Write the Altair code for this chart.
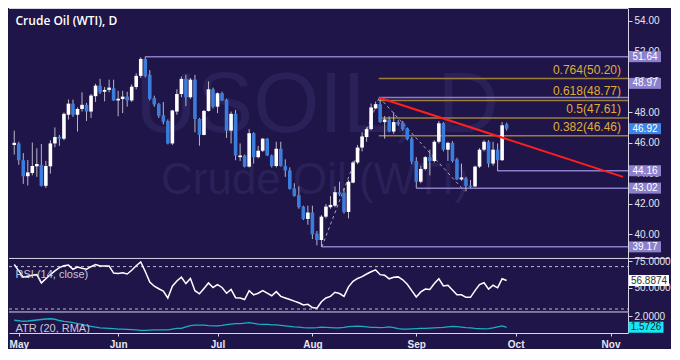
import altair as alt
import pandas as pd

# ---------------- data ----------------
first_k = -1  # candle sequence index of the first (partly hidden) candle

open_ = [45.85, 45.95, 44.85, 43.80, 44.01, 44.45, 44.55, 43.17, 44.45, 45.95,
         46.39, 46.26, 47.83, 48.56, 47.83, 48.21, 48.48, 48.04, 49.05, 49.74,
         49.34, 49.46, 49.57, 48.77, 48.86, 49.02, 48.77, 49.65, 50.38, 51.49,
         50.45, 48.92, 48.52, 47.79, 47.42, 45.95, 48.04, 49.19, 50.19, 48.98,
         50.13, 47.56, 46.51, 48.08, 49.50, 48.36, 49.24, 48.82, 46.79, 47.89,
         45.05, 45.16, 44.43, 46.62, 45.05, 45.47, 46.26, 45.16, 44.47, 45.60,
         44.47, 44.18, 43.00, 42.55, 41.81, 41.00, 41.42, 40.04, 39.62, 41.15,
         41.77, 41.87, 42.75, 42.71, 41.46, 43.38, 44.70, 45.68, 46.37, 46.89,
         48.25, 48.52, 47.35, 47.52, 46.73, 47.35, 47.31, 46.94, 46.26, 44.80,
         43.44, 44.28, 45.05, 44.80, 46.06, 47.27, 45.54, 45.99, 44.91, 43.59,
         43.66, 43.19, 43.13, 44.43, 45.54, 46.06, 44.63, 45.54, 44.85, 47.20]
high = [46.79, 46.06, 45.32, 44.87, 46.01, 45.64, 45.91, 44.80, 46.16, 47.00,
        46.51, 47.98, 48.83, 48.82, 48.31, 49.30, 48.61, 49.19, 49.86, 50.19,
        49.65, 50.13, 50.13, 49.40, 49.40, 49.34, 49.82, 50.55, 51.59, 51.64,
        50.76, 49.08, 48.61, 48.67, 47.52, 48.15, 49.50, 50.34, 50.45, 50.24,
        50.45, 47.62, 48.15, 50.02, 49.61, 49.30, 49.34, 48.88, 48.04, 48.15,
        45.95, 45.22, 46.89, 46.68, 45.79, 46.31, 46.31, 45.22, 46.06, 46.06,
        44.91, 44.38, 43.34, 43.13, 41.87, 41.87, 41.87, 40.21, 41.25, 41.98,
        42.50, 43.13, 43.44, 43.03, 43.55, 44.80, 45.85, 46.68, 47.00, 48.56,
        48.69, 48.97, 47.75, 47.73, 47.98, 47.48, 47.42, 47.00, 46.37, 45.05,
        44.49, 45.12, 45.54, 46.16, 47.42, 47.35, 46.06, 46.10, 45.01, 44.63,
        43.76, 43.55, 44.49, 45.64, 46.16, 46.16, 46.06, 45.95, 47.35, 47.31]
low = [45.22, 44.55, 43.30, 43.19, 43.86, 43.76, 43.13, 43.03, 43.97, 45.70,
       45.79, 46.16, 47.52, 47.69, 46.73, 48.04, 47.42, 47.62, 48.67, 49.19,
       48.71, 49.30, 48.73, 47.73, 47.94, 48.36, 48.67, 49.50, 50.24, 50.28,
       48.77, 48.36, 47.62, 47.20, 45.89, 45.85, 47.83, 48.98, 48.39, 48.88,
       46.68, 45.80, 46.48, 48.04, 48.25, 47.94, 48.73, 46.31, 45.95, 44.85,
       44.80, 44.38, 44.38, 44.63, 44.97, 45.39, 45.12, 44.38, 44.38, 44.43,
       43.76, 42.92, 42.46, 41.67, 40.93, 40.62, 39.68, 39.27, 39.17, 41.04,
       41.67, 41.77, 42.50, 41.35, 41.04, 43.34, 44.59, 45.43, 46.06, 46.81,
       48.19, 47.31, 46.26, 46.68, 46.58, 47.10, 46.79, 46.16, 44.59, 43.02,
       43.34, 44.18, 43.86, 44.70, 45.95, 45.43, 44.80, 44.70, 43.55, 43.50,
       42.82, 43.02, 43.09, 44.34, 45.43, 44.38, 44.49, 44.16, 44.80, 46.79]
close = [45.99, 44.85, 43.80, 44.05, 44.47, 44.60, 43.17, 44.47, 45.95, 46.37,
         46.26, 47.89, 48.56, 47.83, 48.21, 48.48, 48.04, 49.09, 49.74, 49.30,
         49.46, 49.61, 48.77, 48.88, 49.02, 48.77, 49.67, 50.38, 51.49, 50.38,
         48.88, 48.50, 47.77, 47.37, 45.95, 48.11, 49.19, 50.18, 48.98, 50.13,
         47.56, 46.51, 48.08, 49.50, 48.36, 49.24, 48.77, 46.79, 47.89, 45.16,
         45.16, 44.43, 46.62, 45.05, 45.47, 46.26, 45.16, 44.47, 45.60, 44.47,
         44.18, 42.97, 42.50, 41.77, 41.00, 41.42, 39.99, 39.62, 41.15, 41.81,
         41.92, 42.75, 42.61, 41.46, 43.44, 44.70, 45.68, 46.41, 46.89, 48.31,
         48.52, 47.35, 47.52, 46.73, 47.35, 47.20, 46.89, 46.23, 44.76, 43.44,
         44.28, 45.05, 44.80, 46.06, 47.27, 45.54, 45.99, 44.80, 43.59, 43.72,
         43.17, 43.09, 44.43, 45.54, 46.06, 44.63, 45.54, 44.85, 47.14, 46.92]
rsi = [72.0, 66.0, 60.0, 60.9, 61.8, 62.4, 54.6, 58.5, 62.4, 66.0,
       69.0, 70.8, 71.4, 67.5, 69.6, 68.4, 67.5, 69.9, 72.0, 70.5,
       70.5, 70.5, 63.9, 63.6, 64.2, 63.0, 66.6, 70.8, 74.4, 65.4,
       55.4, 51.5, 49.1, 47.0, 40.4, 51.5, 56.4, 60.0, 54.0, 58.8,
       47.3, 44.3, 49.4, 54.6, 50.3, 53.0, 50.3, 44.9, 48.5, 40.7,
       40.4, 38.9, 47.3, 43.4, 44.9, 47.3, 44.9, 42.5, 46.4, 41.9,
       40.4, 38.9, 37.4, 35.9, 33.8, 34.4, 31.4, 30.8, 36.8, 40.4,
       41.9, 45.8, 44.6, 41.9, 50.9, 56.1, 58.8, 60.6, 63.0, 65.1,
       66.9, 62.4, 61.8, 58.5, 60.0, 60.3, 57.6, 53.3, 47.3, 41.3,
       46.1, 48.8, 48.5, 54.0, 58.5, 51.8, 52.4, 47.9, 43.4, 43.4,
       41.0, 41.0, 47.3, 53.0, 54.8, 48.8, 52.4, 50.0, 58.5, 56.8874]
atr = [1.85, 1.83, 1.81, 1.82, 1.84, 1.86, 1.88, 1.90, 1.91, 1.89,
       1.84, 1.81, 1.79, 1.76, 1.72, 1.69, 1.64, 1.61, 1.58, 1.55,
       1.54, 1.53, 1.52, 1.50, 1.50, 1.49, 1.48, 1.47, 1.45, 1.45,
       1.46, 1.47, 1.47, 1.47, 1.47, 1.50, 1.53, 1.53, 1.59, 1.64,
       1.66, 1.66, 1.66, 1.64, 1.63, 1.63, 1.65, 1.68, 1.70, 1.72,
       1.72, 1.74, 1.76, 1.73, 1.70, 1.69, 1.69, 1.67, 1.67, 1.65,
       1.63, 1.61, 1.59, 1.58, 1.56, 1.55, 1.55, 1.56, 1.58, 1.57,
       1.56, 1.55, 1.55, 1.57, 1.60, 1.61, 1.62, 1.61, 1.59, 1.57,
       1.57, 1.56, 1.57, 1.59, 1.56, 1.52, 1.50, 1.50, 1.51, 1.52,
       1.53, 1.53, 1.54, 1.55, 1.56, 1.57, 1.59, 1.61, 1.60, 1.58,
       1.56, 1.55, 1.53, 1.52, 1.51, 1.52, 1.55, 1.59, 1.63, 1.5726]

month_pos = [0, 22, 44, 65, 88, 110, 131]
month_names = ["May", "Jun", "Jul", "Aug", "Sep", "Oct", "Nov"]

price_ticks = [40, 42, 44, 46, 48, 50, 52, 54]
rsi_ticks = [50, 75]
atr_ticks = [2.0]
rsi_bands = [70, 30]

level_price = [51.64, 48.97, 44.16, 43.02, 39.17]
level_from = [28, 79.7, 105.9, 88, 67.1]
level_label = ["51.64", "48.97", "44.16", "43.02", "39.17"]

fib_ratio = ["0.764", "0.618", "0.5", "0.382"]
fib_price = [50.20, 48.77, 47.61, 46.46]
fib_from = 79.7

trend_k = [79.8, 133.76]
trend_p = [48.95, 43.76]

swing_seg = ["a", "a", "b", "b"]
swing_k = [67.1, 79.8, 79.8, 98.7]
swing_p = [39.17, 48.97, 48.97, 42.82]

last_price = 46.92
last_rsi = 56.8874
last_atr = 1.5726

# ---------------- layout / style ----------------
W = 619
H = 325
S = H / 340.0
P_BOT = 262 * S
R_BOT = 318 * S

x_domain = [-1.055, 133.76]
price_domain = [38.41, 54.83]
rsi_domain = [27.2, 77.7]
atr_domain = [1.346, 2.178]

BG = "#1f1548"
WM = "#2a2159"
UP = "#ffffff"
DN = "#3b7ddd"
WICK = "#b9b6c8"
LVL = "#8a7fc8"
BOX = "#8d80cc"
FIBL = "#9c7f3c"
FIBT = "#e0ac36"
RED = "#ff1f1f"
AX = "#d8d6e6"
LAB = "#e6e6ee"
ATRC = "#1aaec4"
CYANBOX = "#19e6f5"
CURBOX = "#3d86e6"
FONT = "Liberation Sans"

ks = list(range(first_k, first_k + len(close)))

expr = "".join(f"datum.value == {p} ? '{n}' : " for p, n in zip(month_pos, month_names)) + "''"
xaxis = alt.Axis(values=month_pos, labelExpr=expr, title=None, grid=False,
                 domainColor=AX, tickColor=AX, labelColor=LAB, labelFont=FONT,
                 labelFontSize=10, labelFontWeight="bold", tickSize=3,
                 labelPadding=3, labelFlush=8, labelOverlap=False)


def yaxis(vals, fmt):
    return alt.Axis(orient="right", values=vals, format=fmt, title=None, grid=False,
                    domainColor=AX, tickColor=AX, labelColor=LAB, labelFont=FONT,
                    labelFontSize=10, tickSize=4, labelPadding=2,
                    labelOverlap=False, labelBound=False)


xs = alt.Scale(domain=x_domain, range=[0, W], nice=False, zero=False)
ps = alt.Scale(domain=price_domain, range=[P_BOT, 0], nice=False, zero=False)
rs = alt.Scale(domain=rsi_domain, range=[R_BOT, P_BOT], nice=False, zero=False)
ats = alt.Scale(domain=atr_domain, range=[H, R_BOT], nice=False, zero=False)
paxis = yaxis(price_ticks, ".2f")
raxis = yaxis(rsi_ticks, ".4f")
aaxis = yaxis(atr_ticks, ".4f")

X = alt.X("k:Q", scale=xs, axis=xaxis)


def PY(f):
    return alt.Y(f, scale=ps, axis=paxis)


def RY(f):
    return alt.Y(f, scale=rs, axis=raxis)


def AY(f):
    return alt.Y(f, scale=ats, axis=aaxis)


def box_path(ratio):
    return f"M-1,-{ratio}L1,-{ratio}L1,{ratio}L-1,{ratio}Z"


one = pd.DataFrame({"a": [0]})


def text_chart(txt, x, y, **kw):
    return alt.Chart(pd.DataFrame({"t": [txt]})).mark_text(**kw).encode(
        x=alt.value(x), y=alt.value(y), text="t:N")


def hline(y, x2):
    return alt.Chart(one).mark_rule(color=AX, strokeWidth=1).encode(
        x=alt.value(0), x2=alt.value(x2), y=alt.value(y))


# ---------------- price panel ----------------
cdf = pd.DataFrame({"k": ks, "o": open_, "h": high, "l": low, "c": close})
cdf["dir"] = ["up" if c >= o else "down" for o, c in zip(open_, close)]

wick = alt.Chart(cdf).mark_rule(color=WICK, strokeWidth=1, clip=True).encode(
    x=X, y=PY("l:Q"), y2="h:Q")
body = alt.Chart(cdf).mark_bar(size=3.6, clip=True).encode(
    x=X, y=PY("o:Q"), y2="c:Q",
    color=alt.Color("dir:N", scale=alt.Scale(domain=["up", "down"], range=[UP, DN]), legend=None))

ldf = pd.DataFrame({"p": level_price, "k0": level_from, "lab": level_label})
lvl_lines = alt.Chart(ldf).mark_rule(color=LVL, strokeWidth=1.5).encode(
    x=alt.X("k0:Q", scale=xs, axis=xaxis), x2=alt.value(W), y=PY("p:Q"))

BX = W + 17
lvl_box = alt.Chart(ldf).transform_filter(alt.datum.lab != "48.97").mark_point(
    shape=box_path(0.344), filled=True, size=1024, color=BOX, opacity=1, strokeWidth=0
).encode(x=alt.value(BX), y=PY("p:Q"))
lvl_txt = alt.Chart(ldf).transform_filter(alt.datum.lab != "48.97").mark_text(
    fontSize=10, color="white", font=FONT).encode(x=alt.value(BX), y=PY("p:Q"), text="lab:N")
lvl_box2 = alt.Chart(ldf).transform_filter(alt.datum.lab == "48.97").mark_point(
    shape=box_path(0.344), filled=True, size=1024, color=BOX, opacity=1, strokeWidth=0,
    yOffset=-14).encode(x=alt.value(BX), y=PY("p:Q"))
lvl_txt2 = alt.Chart(ldf).transform_filter(alt.datum.lab == "48.97").mark_text(
    fontSize=10, color="white", font=FONT, yOffset=-14).encode(
    x=alt.value(BX), y=PY("p:Q"), text="lab:N")

cur = pd.DataFrame({"p": [last_price], "lab": [f"{last_price:.2f}"]})
cur_box = alt.Chart(cur).mark_point(shape=box_path(0.344), filled=True, size=1024,
                                    color=CURBOX, opacity=1, strokeWidth=0).encode(
    x=alt.value(BX), y=PY("p:Q"))
cur_txt = alt.Chart(cur).mark_text(fontSize=10, color="white", font=FONT).encode(
    x=alt.value(BX), y=PY("p:Q"), text="lab:N")

fdf = pd.DataFrame({"p": fib_price, "k0": [fib_from] * len(fib_price),
                    "lab": [f"{r}({p:.2f})" for r, p in zip(fib_ratio, fib_price)]})
fib_lines = alt.Chart(fdf).mark_rule(color=FIBL, strokeWidth=1.5).encode(
    x=alt.X("k0:Q", scale=xs, axis=xaxis), x2=alt.value(W), y=PY("p:Q"))
fib_txt = alt.Chart(fdf).mark_text(align="right", baseline="bottom", dy=-2, fontSize=12,
                                   color=FIBT, font=FONT).encode(
    x=alt.value(W - 7), y=PY("p:Q"), text="lab:N")

tdf = pd.DataFrame({"k": trend_k, "p": trend_p})
trend = alt.Chart(tdf).mark_line(color=RED, strokeWidth=2, clip=True).encode(x=X, y=PY("p:Q"))

sdf = pd.DataFrame({"k": swing_k, "p": swing_p, "seg": swing_seg})
swing = alt.Chart(sdf).mark_line(color="#a8a4bc", strokeWidth=1, strokeDash=[3, 3]).encode(
    x=X, y=PY("p:Q"), detail="seg:N")

price_layer = alt.layer(fib_lines, lvl_lines, swing, wick, body, trend, fib_txt,
                        lvl_box, lvl_txt, lvl_box2, lvl_txt2, cur_box, cur_txt)

# ---------------- RSI panel ----------------
rdf = pd.DataFrame({"k": ks, "v": rsi})
rsi_line = alt.Chart(rdf).mark_line(color="white", strokeWidth=1.5).encode(x=X, y=RY("v:Q"))
rsi_band = alt.Chart(pd.DataFrame({"v": rsi_bands})).mark_rule(
    color="#bdb8d6", strokeDash=[3, 3], strokeWidth=1).encode(
    x=alt.value(0), x2=alt.value(W), y=RY("v:Q"))
rl = pd.DataFrame({"v": [last_rsi], "lab": [f"{last_rsi:.4f}"]})
RBX = W + 21
rsi_box = alt.Chart(rl).mark_point(shape=box_path(0.275), filled=True, size=1600,
                                   color="white", opacity=1, strokeWidth=0).encode(
    x=alt.value(RBX), y=RY("v:Q"))
rsi_txt = alt.Chart(rl).mark_text(fontSize=10, color="#333333", font=FONT).encode(
    x=alt.value(RBX), y=RY("v:Q"), text="lab:N")
rsi_layer = alt.layer(rsi_band, rsi_line, rsi_box, rsi_txt)

# ---------------- ATR panel ----------------
adf = pd.DataFrame({"k": ks, "v": atr})
atr_line = alt.Chart(adf).mark_line(color=ATRC, strokeWidth=1.3).encode(x=X, y=AY("v:Q"))
al = pd.DataFrame({"v": [last_atr], "lab": [f"{last_atr:.4f}"]})
ABX = W + 18
atr_box = alt.Chart(al).mark_point(shape=box_path(0.314), filled=True, size=1225,
                                   color=CYANBOX, opacity=1, strokeWidth=0).encode(
    x=alt.value(ABX), y=AY("v:Q"))
atr_txt = alt.Chart(al).mark_text(fontSize=10, color="#222222", font=FONT).encode(
    x=alt.value(ABX), y=AY("v:Q"), text="lab:N")
atr_layer = alt.layer(atr_line, atr_box, atr_txt)

# ---------------- decorations ----------------
wm1 = text_chart("USOIL, D", 308, 124, fontSize=85, color=WM, font=FONT, align="center",
                 baseline="alphabetic")
wm2 = text_chart("Crude Oil (WTI)", 306, 186, fontSize=44, color=WM, font=FONT,
                 align="center", baseline="alphabetic")
title = text_chart("Crude Oil (WTI), D", 6.5, 17, fontSize=12, color="white", font="Open Sans",
                   fontWeight=600, align="left", baseline="alphabetic")
rsi_lab = text_chart("RSI (14, close)", 6.5, 266.5, fontSize=11, color="#c9c6da", font=FONT,
                     align="left", baseline="middle")
atr_lab = text_chart("ATR (20, RMA)", 6.5, 320.5, fontSize=11, color="#c9c6da", font=FONT,
                     align="left", baseline="middle")

seps = [hline(0.5, W), hline(P_BOT, W + 41), hline(R_BOT, W)]

chart = alt.layer(
    wm1, wm2, price_layer, rsi_layer, atr_layer, *seps, title, rsi_lab, atr_lab
).resolve_scale(y="independent").properties(
    width=W, height=H, background=BG, padding=0
).configure_view(stroke=None)

chart.save("out.html", embed_options={"renderer": "svg", "actions": False})
